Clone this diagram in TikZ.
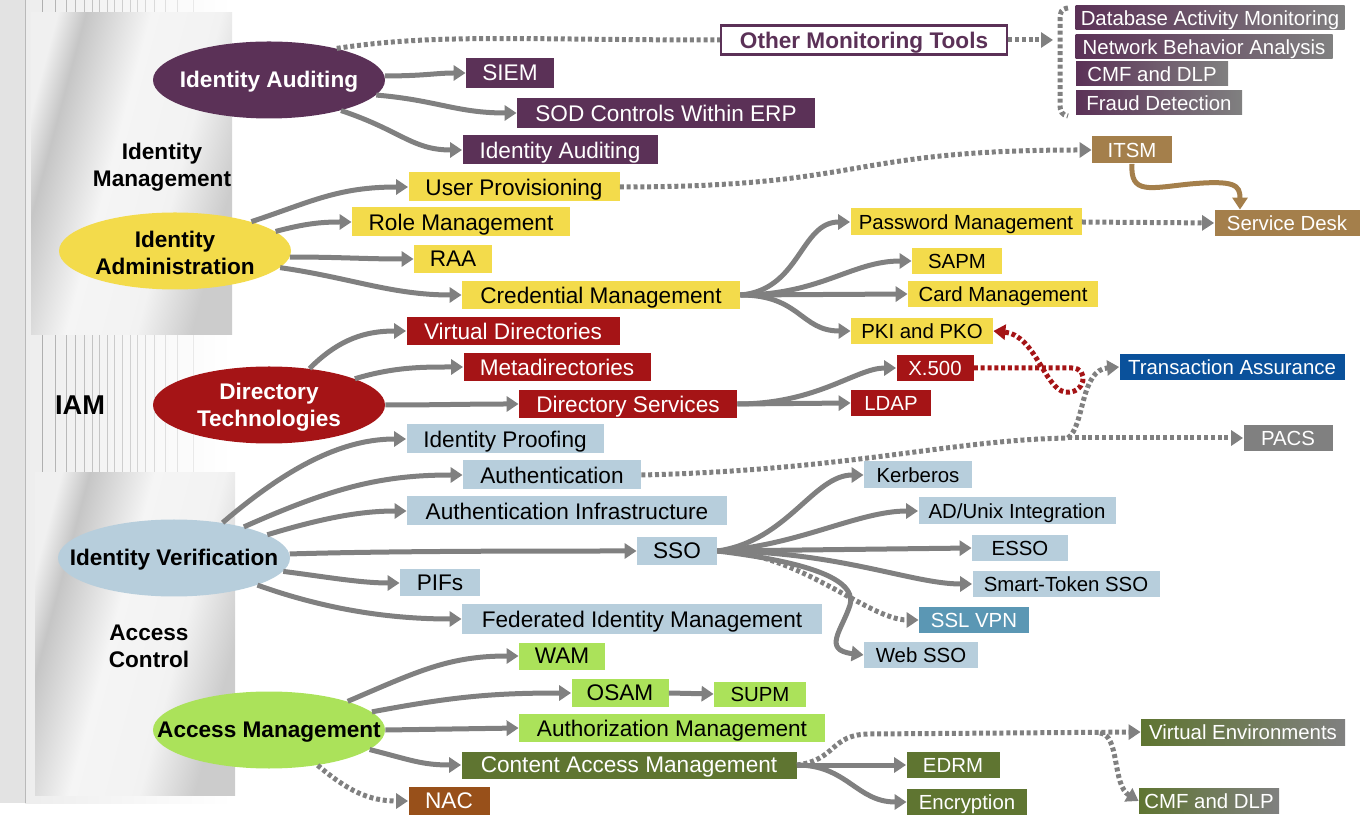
\documentclass[tikz,border=0pt]{standalone}
\usepackage{fontspec}
\setmainfont{Liberation Sans}
\usetikzlibrary{arrows.meta,shapes.geometric}

\definecolor{audpurple}{HTML}{5B3157}
\definecolor{admyellow}{HTML}{F3DB4B}
\definecolor{dirred}{HTML}{A51416}
\definecolor{verblue}{HTML}{B7CEDC}
\definecolor{accgreen}{HTML}{ABE25A}
\definecolor{conolive}{HTML}{5F7531}
\definecolor{svcbrown}{HTML}{A47F4B}
\definecolor{nacbrown}{HTML}{98501A}
\definecolor{vpnblue}{HTML}{5B97B4}
\definecolor{tablue}{HTML}{0A519B}
\definecolor{lgray}{HTML}{808080}

\pgfdeclarehorizontalshading{panelshade}{100bp}{color(0bp)=(gray!12); color(25bp)=(gray!12); color(31bp)=(gray!45); color(45bp)=(gray!8); color(60bp)=(gray!10); color(72bp)=(gray!40); color(100bp)=(gray!40)}

\begin{document}
\begin{tikzpicture}[x=0.5pt,y=-0.5pt,
  link/.style={draw=lgray, line width=2.5pt},
  arr/.style={-{Triangle[length=6pt,width=7.5pt]}},
  dots/.style={dash pattern=on 2pt off 1.4pt},
  sz/.style 2 args={minimum width=#1*0.5pt, minimum height=#2*0.5pt},
  box/.style={rectangle, inner sep=0pt, text depth=0pt, font=\fontsize{11.3}{13}\selectfont},
  sbox/.style={box, font=\fontsize{10.2}{12}\selectfont},
  oval/.style={ellipse, inner sep=0pt, minimum width=116pt, minimum height=38.5pt},
  ovaltext/.style={font=\bfseries\fontsize{11.3}{13.5}\selectfont, align=center, yshift=-1pt},
  side/.style={font=\bfseries\fontsize{11.3}{13.5}\selectfont, align=center}]
  \useasboundingbox (0,0) rectangle (1364,822);

  % left strip
  \fill[gray!22] (0,0) rectangle (25,803);
  \fill[left color=gray!14, right color=white] (25,0) rectangle (232,803);
  \draw[gray!55, line width=0.4pt] (25,0) -- (25,803);
  \foreach \x [evaluate=\x as \tone using {75-0.3*\x}] in {42,55,66,75,84,92,99,107,114,122,130,137,145,154,165,177,193} {
    \draw[gray!\tone, line width=0.4pt] (\x,335) -- (\x,473);
    \draw[gray!\tone, line width=0.4pt] (\x,0) -- (\x,13);
  }
  \shade[shading=panelshade, shading angle=-15] (31,13) rectangle (232,335);
  \shade[shading=panelshade, shading angle=-15] (35,473) rectangle (235,795);
  \node[side] at (162,167) {Identity\\Management};
  \node[side, font=\bfseries\fontsize{13.6}{16}\selectfont] at (80,405) {IAM};
  \node[side] at (149,646) {Access\\Control};

  % identity auditing
  \node[oval, fill=audpurple] (ia) at (269,80) {};
  \node[ovaltext, text=white] at (ia) {Identity Auditing};
  \node[box, sz={88}{30}, fill=audpurple, text=white] (siem) at (510,73) {SIEM};
  \node[box, sz={298}{30}, fill=audpurple, text=white] (sod) at (666,113) {SOD Controls Within ERP};
  \node[box, sz={195}{29}, fill=audpurple, text=white] (audbox) at (560,150) {Identity Auditing};
  \node[box, sz={286}{29}, draw=audpurple, line width=1.2pt, fill=white, text=audpurple,
        font=\bfseries\fontsize{11.3}{13}\selectfont] (other) at (864,40) {Other Monitoring Tools};
  \node[sbox, sz={269}{24}, left color=audpurple, right color=lgray, text=white] (dam) at (1210,18) {Database Activity Monitoring};
  \node[sbox, sz={257}{24}, left color=audpurple, right color=lgray, text=white] (nba) at (1204,47) {Network Behavior Analysis};
  \node[sbox, sz={152}{24}, left color=audpurple, right color=lgray, text=white] (cmfa) at (1152,74) {CMF and DLP};
  \node[sbox, sz={166}{24}, left color=audpurple, right color=lgray, text=white] (fraud) at (1159,103) {Fraud Detection};

  % identity administration
  \node[oval, fill=admyellow] (ida) at (175,251) {};
  \node[ovaltext] at (ida) {Identity\\Administration};
  \node[box, sz={211}{29}, fill=admyellow] (prov) at (514,187) {User Provisioning};
  \node[box, sz={218}{29}, fill=admyellow] (role) at (461,222) {Role Management};
  \node[box, sz={78}{28}, fill=admyellow] (raa) at (453,259) {RAA};
  \node[box, sz={278}{28}, fill=admyellow] (cred) at (601,295) {Credential Management};
  \node[sbox, sz={231}{27}, fill=admyellow] (pwd) at (966,222) {Password Management};
  \node[sbox, sz={90}{26}, fill=admyellow] (sapm) at (957,261) {SAPM};
  \node[sbox, sz={190}{26}, fill=admyellow] (card) at (1003,294) {Card Management};
  \node[sbox, sz={142}{26}, fill=admyellow] (pki) at (922,331) {PKI and PKO};
  \node[sbox, sz={80}{27}, fill=svcbrown, text=white] (itsm) at (1132,150) {ITSM};
  \node[sbox, sz={145}{26}, fill=svcbrown, text=white] (sdesk) at (1287,223) {Service Desk};

  % directory technologies
  \node[oval, fill=dirred] (dt) at (269,405) {};
  \node[ovaltext, text=white] at (dt) {Directory\\Technologies};
  \node[box, sz={213}{28}, fill=dirred, text=white] (vdir) at (513,331) {Virtual Directories};
  \node[box, sz={187}{28}, fill=dirred, text=white] (meta) at (557,367) {Metadirectories};
  \node[box, sz={218}{28}, fill=dirred, text=white] (dserv) at (628,404) {Directory Services};
  \node[sbox, sz={77}{26}, fill=dirred, text=white] (x500) at (935,368) {X.500};
  \node[sbox, sz={80}{26}, fill=dirred, text=white] (ldap) at (891,403) {LDAP};
  \node[sbox, sz={225}{26}, fill=tablue, text=white] (trans) at (1232,367) {Transaction Assurance};
  \node[sbox, sz={89}{26}, fill=lgray, text=white] (pacs) at (1288,438) {PACS};

  % identity verification
  \node[oval, fill=verblue] (iv) at (174,558) {};
  \node[ovaltext] at (iv) {Identity Verification};
  \node[box, sz={197}{29}, fill=verblue] (proof) at (505,439) {Identity Proofing};
  \node[box, sz={178}{29}, fill=verblue] (authn) at (552,475) {Authentication};
  \node[box, sz={320}{29}, fill=verblue] (infra) at (567,511) {Authentication Infrastructure};
  \node[box, sz={80}{28}, fill=verblue] (sso) at (677,551) {SSO};
  \node[box, sz={80}{27}, fill=verblue] (pifs) at (440,583) {PIFs};
  \node[box, sz={360}{29}, fill=verblue] (fed) at (642,619) {Federated Identity Management};
  \node[sbox, sz={108}{27}, fill=verblue] (kerb) at (918,475) {Kerberos};
  \node[sbox, sz={197}{27}, fill=verblue] (adunix) at (1017,511) {AD/Unix Integration};
  \node[sbox, sz={96}{26}, fill=verblue] (esso) at (1020,548) {ESSO};
  \node[sbox, sz={187}{26}, fill=verblue] (smart) at (1066,584) {Smart-Token SSO};
  \node[sbox, sz={110}{26}, fill=vpnblue, text=white] (sslvpn) at (974,620) {SSL VPN};
  \node[sbox, sz={114}{26}, fill=verblue] (websso) at (921,655) {Web SSO};

  % access management
  \node[oval, fill=accgreen] (am) at (269,730) {};
  \node[ovaltext] at (am) {Access Management};
  \node[box, sz={86}{27}, fill=accgreen] (wam) at (562,656) {WAM};
  \node[box, sz={97}{28}, fill=accgreen] (osam) at (620,693) {OSAM};
  \node[sbox, sz={92}{25}, fill=accgreen] (supm) at (760,694) {SUPM};
  \node[box, sz={306}{28}, fill=accgreen] (authz) at (672,728) {Authorization Management};
  \node[box, sz={335}{27}, fill=conolive, text=white] (cam) at (629,765) {Content Access Management};
  \node[sbox, sz={93}{26}, fill=conolive, text=white] (edrm) at (953,765) {EDRM};
  \node[sbox, sz={120}{26}, fill=conolive, text=white] (encr) at (967,802) {Encryption};
  \node[sbox, sz={204}{26}, left color=conolive, right color=lgray, text=white] (venv) at (1243,732) {Virtual Environments};
  \node[sbox, sz={140}{25}, left color=conolive, right color=lgray, text=white] (cmfb) at (1209,801) {CMF and DLP};
  \node[box, sz={81}{28}, fill=nacbrown, text=white] (nac) at (449,801) {NAC};

  % auditing links
  \draw[link,arr] (ia.2) .. controls +(40,0) and +(-30,0) .. (siem.west);
  \draw[link,arr] (ia.-8) .. controls +(60,5) and +(-60,0) .. (sod.west);
  \draw[link,arr] (ia.-23) .. controls +(60,20) and +(-50,0) .. (audbox.west);
  \draw[link,dots] (ia.25) .. controls +(100,-15) and +(-200,0) .. (other.west);
  \coordinate (brk) at (1053,40);
  \draw[link,dots,arr] (other.east) -- (brk);
  \draw[link,dots] (1068,8) .. controls (1061,9) and (1060,12) .. (1060,20) -- (1060,104)
    .. controls (1060,112) and (1062,115) .. (1068,116);

  % administration links
  \draw[link,arr] (ida.21) .. controls +(60,-20) and +(-70,0) .. (prov.west);
  \draw[link,arr] (ida.11) .. controls +(30,-8) and +(-30,0) .. (role.west);
  \draw[link,arr] (ida.-3) .. controls +(50,0) and +(-50,0) .. (raa.west);
  \draw[link,arr] (ida.-9) .. controls +(70,10) and +(-70,0) .. (cred.west);
  \draw[link,dots,arr] (prov.east) .. controls +(250,0) and +(-250,0) .. (itsm.west);
  \draw[line width=2.5pt, draw=svcbrown, arr] (itsm.south) .. controls (1130,195) and (1150,188) .. (1190,184)
    .. controls (1235,180) and (1240,185) .. ([xshift=-23.5pt]sdesk.north);
  \draw[link,arr] (cred.east) .. controls +(60,-5) and +(-50,0) .. (pwd.west);
  \draw[link,arr] (cred.east) .. controls +(80,0) and +(-60,0) .. (sapm.west);
  \draw[link,arr] (cred.east) -- (card.west);
  \draw[link,arr] (cred.east) .. controls +(60,0) and +(-50,0) .. (pki.west);
  \draw[link,dots,arr] (pwd.east) -- (sdesk.west);

  % directory links
  \draw[link,arr] (dt.42) .. controls +(30,-30) and +(-40,0) .. (vdir.west);
  \draw[link,arr] (dt.17) .. controls +(40,-12) and +(-40,0) .. (meta.west);
  \draw[link,arr] (dt.0) .. controls +(50,0) and +(-50,0) .. (dserv.west);
  \draw[link,arr] (dserv.east) .. controls +(80,0) and +(-40,0) .. (x500.west);
  \draw[link,arr] (dserv.east) -- (ldap.west);
  \draw[link,dots,arr,draw=dirred] (x500.east) -- (1072,368) .. controls (1090,368) and (1085,395) .. (1065,392)
    .. controls (1045,389) and (1035,335) .. (pki.east);

  % verification links
  \draw[link,arr] (iv.36) .. controls +(70,-60) and +(-60,0) .. (proof.west);
  \draw[link,arr] (iv.24) .. controls +(90,-40) and +(-80,0) .. (authn.west);
  \draw[link,arr] (iv.14) .. controls +(50,-15) and +(-50,0) .. (infra.west);
  \draw[link,arr] (iv.2) .. controls +(100,-3) and +(-100,0) .. (sso.west);
  \draw[link,arr] (iv.-7) .. controls +(40,5) and +(-40,0) .. (pifs.west);
  \draw[link,arr] (iv.-18) .. controls +(70,25) and +(-70,0) .. (fed.west);
  \coordinate (fork) at (1068,438);
  \draw[link,dots] (authn.east) .. controls (850,470) and (950,440) .. (fork);
  \draw[link,dots,arr] (fork) -- (pacs.west);
  \draw[link,dots,arr] (fork) .. controls (1085,425) and (1080,370) .. (trans.west);
  \draw[link,arr] (sso.east) .. controls +(70,-10) and +(-50,0) .. (kerb.west);
  \draw[link,arr] (sso.east) .. controls +(80,-5) and +(-60,0) .. (adunix.west);
  \draw[link,arr] (sso.east) -- (esso.west);
  \draw[link,arr] (sso.east) .. controls +(120,0) and +(-60,0) .. (smart.west);
  \draw[link,dots,arr] (sso.east) .. controls +(80,0) and +(-50,0) .. (sslvpn.west);
  \draw[link,arr] (sso.east) .. controls (790,560) and (858,575) .. (850,605)
    .. controls (842,630) and (822,650) .. (websso.west);

  % access links
  \draw[link,arr] (am.20) .. controls +(70,-30) and +(-70,0) .. (wam.west);
  \draw[link,arr] (am.10) .. controls +(80,-15) and +(-80,0) .. (osam.west);
  \draw[link,arr] (osam.east) -- (supm.west);
  \draw[link,arr] (am.east) -- (authz.west);
  \draw[link,arr] (am.-11) .. controls +(40,10) and +(-40,0) .. (cam.west);
  \draw[link,dots,arr] (am.-36) .. controls +(30,25) and +(-40,0) .. (nac.west);
  \draw[link,arr] (cam.east) -- (edrm.west);
  \draw[link,arr] (cam.east) .. controls +(50,0) and +(-50,0) .. (encr.west);
  \coordinate (vsplit) at (1100,733);
  \draw[link,dots,arr] (cam.east) .. controls +(40,-5) and +(-40,0) .. (870,734) -- (venv.west);
  \draw[link,dots,arr] (vsplit) .. controls (1120,735) and (1112,785) .. (cmfb.west);
\end{tikzpicture}
\end{document}
